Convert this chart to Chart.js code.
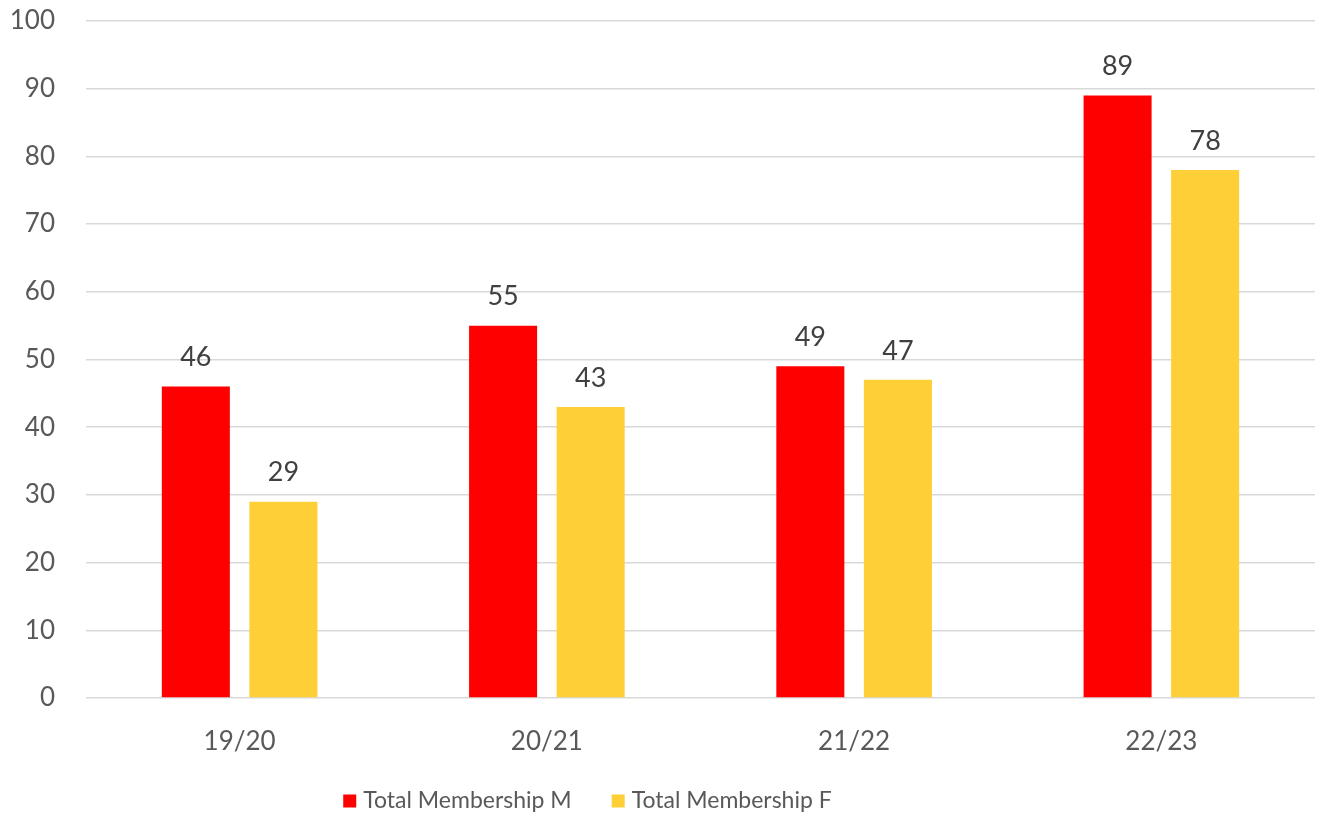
<!DOCTYPE html>
<html>
<head>
<meta charset="utf-8">
<script src="https://cdn.jsdelivr.net/npm/chart.js@4"></script>
<style>
html,body{margin:0;padding:0;background:#fff;}
#wrap{width:1322px;height:815px;position:relative;}
</style>
</head>
<body>
<div id="wrap"><canvas id="c" width="1322" height="815"></canvas></div>
<script>
const categories = ["19/20", "20/21", "21/22", "22/23"];
const seriesNames = ["Total Membership M", "Total Membership F"];
const membershipM = [46, 55, 49, 89];
const membershipF = [29, 43, 47, 78];
const yTicks = [0, 10, 20, 30, 40, 50, 60, 70, 80, 90, 100];

const FONT = "Lato, 'Open Sans', sans-serif";

const labelPlugin = {
  id: 'barLabels',
  afterDatasetsDraw(chart) {
    const ctx = chart.ctx;
    ctx.save();
    ctx.fillStyle = '#404040';
    ctx.font = '27px ' + FONT;
    ctx.textAlign = 'center';
    ctx.textBaseline = 'middle';
    chart.data.datasets.forEach((ds, di) => {
      const meta = chart.getDatasetMeta(di);
      meta.data.forEach((bar, i) => {
        ctx.fillText(String(ds.data[i]), bar.x, bar.y - 29);
      });
    });
    ctx.restore();
  }
};

const legendPlugin = {
  id: 'customLegend',
  afterDraw(chart) {
    const ctx = chart.ctx;
    ctx.save();
    ctx.font = '23px ' + FONT;
    ctx.textBaseline = 'middle';
    const box = 13, gapText = 7, gapItem = 40;
    const items = chart.data.datasets.map(ds => ({ text: ds.label, color: ds.backgroundColor, w: ctx.measureText(ds.label).width }));
    const total = items.reduce((s, it) => s + box + gapText + it.w, 0) + gapItem * (items.length - 1);
    let x = 587.5 - total / 2;
    const cy = 801;
    items.forEach(it => {
      ctx.fillStyle = it.color;
      ctx.fillRect(x, cy - box / 2, box, box);
      x += box + gapText;
      ctx.fillStyle = '#595959';
      ctx.fillText(it.text, x, cy);
      x += it.w + gapItem;
    });
    ctx.restore();
  }
};

new Chart(document.getElementById('c'), {
  type: 'bar',
  data: {
    labels: categories,
    datasets: [
      { label: seriesNames[0], data: membershipM, backgroundColor: '#FF0000',
        categoryPercentage: 0.57, barPercentage: 0.777 },
      { label: seriesNames[1], data: membershipF, backgroundColor: '#FFCF37',
        categoryPercentage: 0.57, barPercentage: 0.777 }
    ]
  },
  options: {
    responsive: false,
    animation: false,
    layout: { padding: { top: 21, right: 7, left: 0, bottom: 36 } },
    plugins: {
      legend: { display: false },
      tooltip: { enabled: false }
    },
    scales: {
      x: {
        grid: { display: false },
        border: { display: false },
        ticks: { color: '#595959', font: { size: 26, family: FONT }, padding: 20 },
        afterFit(scale) { scale.height = 81; scale.paddingLeft = 0; scale.paddingRight = 0; }
      },
      y: {
        min: 0, max: 100,
        afterBuildTicks(scale) { scale.ticks = yTicks.map(v => ({ value: v })); },
        grid: { color: '#D9D9D9', lineWidth: 1.5, drawTicks: false },
        border: { display: false },
        ticks: { color: '#595959', font: { size: 26, family: FONT }, padding: 31 },
        afterFit(scale) { scale.width = 86; scale.paddingTop = 0; scale.paddingBottom = 0; }
      }
    }
  },
  plugins: [labelPlugin, legendPlugin]
});
</script>
</body>
</html>
